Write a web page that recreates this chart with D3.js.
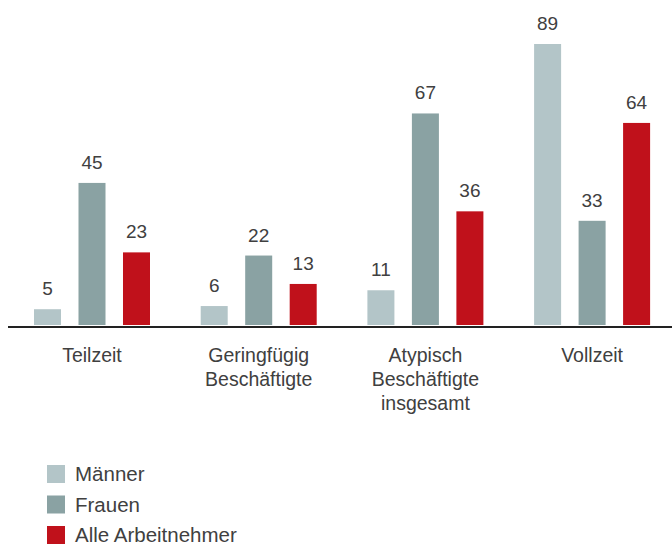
<!DOCTYPE html>
<html>
<head>
<meta charset="utf-8">
<script src="https://cdn.jsdelivr.net/npm/d3@7"></script>
<style>
  body { margin: 0; background: #fff; }
  svg { display: block; font-family: "Liberation Sans", Arial, sans-serif; }
</style>
</head>
<body>
<div class="graph"></div>
<script>
const categories = ['Teilzeit', 'Geringfügig Beschäftigte', 'Atypisch Beschäftigte insgesamt', 'Vollzeit'];
const categoryLines = [['Teilzeit'], ['Geringfügig', 'Beschäftigte'], ['Atypisch', 'Beschäftigte', 'insgesamt'], ['Vollzeit']];
const series = ['Männer', 'Frauen', 'Alle Arbeitnehmer'];
const maenner = [5, 6, 11, 89];
const frauen = [45, 22, 67, 33];
const alle = [23, 13, 36, 64];
const colors = ['#b3c5c8', '#8aa2a3', '#c0111b'];

const width = 672, height = 545;
const baseline = 325;

const svg = d3.select('.graph')
    .append('svg')
    .attr('width', width)
    .attr('height', height);

const x0 = d3.scaleBand()
    .domain(categories)
    .range([34, 34 + 4 * 166.7]);
const x1 = d3.scaleBand()
    .domain(series)
    .range([0, 116])
    .paddingInner(0.393);
const y = d3.scaleLinear()
    .domain([0, 89])
    .range([baseline, 44]);
const color = d3.scaleOrdinal().domain(series).range(colors);

const values = [maenner, frauen, alle];
const data = categories.map((c, i) => ({
    cat: c,
    vals: series.map((s, j) => ({ s: s, v: values[j][i] }))
}));

const groups = svg.selectAll('.group')
    .data(data)
    .enter()
    .append('g')
    .attr('transform', d => `translate(${x0(d.cat)},0)`);

groups.selectAll('rect')
    .data(d => d.vals)
    .enter()
    .append('rect')
    .attr('x', d => x1(d.s))
    .attr('y', d => y(d.v))
    .attr('width', x1.bandwidth())
    .attr('height', d => baseline - y(d.v))
    .attr('fill', d => color(d.s));

groups.selectAll('.bar-label')
    .data(d => d.vals)
    .enter()
    .append('text')
    .attr('x', d => x1(d.s) + x1.bandwidth() / 2)
    .attr('y', d => y(d.v) - 14)
    .attr('text-anchor', 'middle')
    .attr('fill', '#404040')
    .style('font-size', '19px')
    .text(d => d.v);

// baseline
svg.append('line')
    .attr('x1', 8)
    .attr('x2', width)
    .attr('y1', baseline + 2)
    .attr('y2', baseline + 2)
    .attr('stroke', '#222')
    .attr('stroke-width', 2);

// category labels
const catText = svg.selectAll('.cat-label')
    .data(categories)
    .enter()
    .append('text')
    .attr('text-anchor', 'middle')
    .attr('fill', '#404040')
    .style('font-size', '19.5px');
catText.selectAll('tspan')
    .data((d, i) => categoryLines[i].map(l => ({ l: l, c: d })))
    .enter()
    .append('tspan')
    .attr('x', d => x0(d.c) + 58)
    .attr('y', (d, i) => 362 + i * 24)
    .text(d => d.l);

// legend
const legend = svg.selectAll('.legend')
    .data(series)
    .enter()
    .append('g')
    .attr('transform', (d, i) => `translate(47,${465 + i * 30.5})`);
legend.append('rect')
    .attr('width', 18)
    .attr('height', 18)
    .attr('fill', d => color(d));
legend.append('text')
    .attr('x', 28)
    .attr('y', 16)
    .attr('fill', '#404040')
    .style('font-size', '20.5px')
    .text(d => d);
</script>
</body>
</html>
